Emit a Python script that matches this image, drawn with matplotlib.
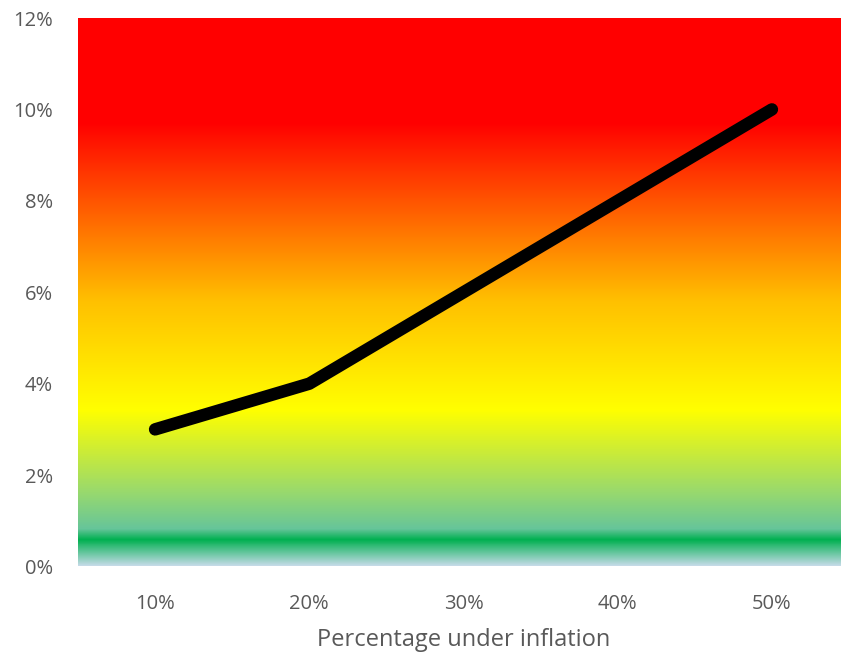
"""Inflation risk line over a red-to-green gradient band."""

import matplotlib
matplotlib.use("Agg")
import matplotlib.pyplot as plt
import numpy as np
from matplotlib.colors import LinearSegmentedColormap
from matplotlib.ticker import FuncFormatter

categories = ["10%", "20%", "30%", "40%", "50%"]
values = [3, 4, 6, 8, 10]
y_ticks = [0, 2, 4, 6, 8, 10, 12]

# gradient stops (value in %, colour)
stop_vals = [0.0, 0.57, 0.8, 1.6, 3.4, 5.8, 9.7, 12.0]
stop_cols = ["#c6dbe8", "#00b050", "#66c59a", "#98d96e", "#ffff00", "#ffc000", "#ff0000", "#ff0000"]

plt.rcParams["font.family"] = ["Open Sans", "DejaVu Sans"]

fig = plt.figure(figsize=(8.41, 6.53), dpi=100)
# plot area runs a little past the right edge of the image, as in the source
ax = fig.add_axes([78 / 841, (653 - 566.5) / 653, 771 / 841, 548.5 / 653])

cmap = LinearSegmentedColormap.from_list(
    "band", [(v / 12.0, c) for v, c in zip(stop_vals, stop_cols)], N=1024)
grad = np.linspace(0, 12, 1000).reshape(-1, 1)
ax.imshow(grad, extent=[-0.5, 4.5, 0, 12], origin="lower", aspect="auto",
          cmap=cmap, vmin=0, vmax=12, zorder=0)

x = np.arange(len(categories))
ax.plot(x, values, color="black", lw=9, solid_capstyle="round",
        solid_joinstyle="round", zorder=3)

ax.set_xlim(-0.5, 4.5)
ax.set_ylim(0, 12)
ax.set_xticks(x)
ax.set_xticklabels(categories)
ax.set_yticks(y_ticks)
ax.yaxis.set_major_formatter(FuncFormatter(lambda v, _: f"{v:.0f}%"))
ax.tick_params(length=0, labelsize=14.5, colors="#595959")
ax.tick_params(axis="y", pad=18)
ax.tick_params(axis="x", pad=20)
for s in ax.spines.values():
    s.set_visible(False)
ax.set_xlabel("Percentage under inflation", fontsize=17, color="#595959", labelpad=10)

fig.savefig("out.png", dpi=100)
